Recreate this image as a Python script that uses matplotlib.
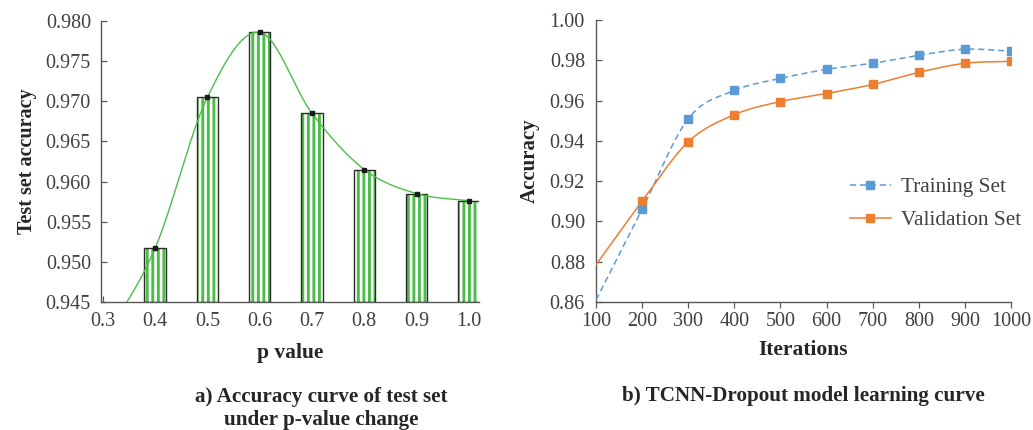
import numpy as np
import matplotlib
matplotlib.use("Agg")
import matplotlib.pyplot as plt

plt.rcParams['font.family'] = ['Liberation Serif', 'DejaVu Serif']
plt.rcParams['hatch.linewidth'] = 2.1

# a) accuracy under p-value change
p_vals = [0.4, 0.5, 0.6, 0.7, 0.8, 0.9, 1.0]
test_acc = [0.9517, 0.9705, 0.9786, 0.9685, 0.9615, 0.9585, 0.9576]
# smooth guide curve (starts below the axis at p=0.3)
curve_p = [0.3, 0.4, 0.5, 0.6, 0.7, 0.8, 0.9, 1.0]
curve_acc = [0.940, 0.9517, 0.9705, 0.9786, 0.9685, 0.9615, 0.9585, 0.9576]

# b) learning curve
iters = [100, 200, 300, 400, 500, 600, 700, 800, 900, 1000]
train_acc = [0.861, 0.906, 0.951, 0.965, 0.971, 0.9755, 0.9785, 0.9825, 0.9855, 0.9845]
val_acc = [0.8785, 0.910, 0.9395, 0.953, 0.9595, 0.9635, 0.968, 0.974, 0.9785, 0.9795]

GREEN = '#4dbd4a'
BLUE = '#5b9bd5'
ORANGE = '#ed7d31'
SPINE = '#595959'
TXT = '#404040'
DARK = '#262626'


def smooth(x, y, n=30):
    # catmull-rom spline through the points
    pts = np.column_stack([x, y]).astype(float)
    pts = np.vstack([2 * pts[0] - pts[1], pts, 2 * pts[-1] - pts[-2]])
    out = []
    t = np.linspace(0, 1, n)[:, None]
    for i in range(1, len(pts) - 2):
        p0, p1, p2, p3 = pts[i - 1], pts[i], pts[i + 1], pts[i + 2]
        seg = 0.5 * ((2 * p1) + (-p0 + p2) * t + (2 * p0 - 5 * p1 + 4 * p2 - p3) * t ** 2
                     + (-p0 + 3 * p1 - 3 * p2 + p3) * t ** 3)
        out.append(seg if i == 1 else seg[1:])
    out = np.vstack(out)
    return out[:, 0], out[:, 1]


def style_axes(ax):
    for s in ['top', 'right']:
        ax.spines[s].set_visible(False)
    for s in ['left', 'bottom']:
        ax.spines[s].set_color(SPINE)
        ax.spines[s].set_linewidth(1.0)
    ax.tick_params(colors=SPINE, labelcolor=TXT, labelsize=14.5, length=4, width=0.9)


fig = plt.figure(figsize=(10.33, 4.30), dpi=100)

# ---- left panel
ax1 = fig.add_axes([0.0975, 0.2977, 0.3665, 0.6535])
ax1.bar(p_vals, [a - 0.945 for a in test_acc], width=0.041, bottom=0.945,
        color='white', edgecolor=GREEN, hatch='|||', linewidth=0, zorder=2)
ax1.bar(p_vals, [a - 0.945 for a in test_acc], width=0.041, bottom=0.945,
        fill=False, edgecolor='#2b2b2b', linewidth=1.0, zorder=3)
cx, cy = smooth(curve_p, curve_acc)
ax1.plot(cx, cy, color=GREEN, lw=1.0, zorder=4)
ax1.plot(p_vals, test_acc, 's', color='#1a1a1a', ms=3, zorder=5)
ax1.set_xlim(0.296, 1.02)
ax1.set_ylim(0.945, 0.980)
ax1.set_xticks([0.3, 0.4, 0.5, 0.6, 0.7, 0.8, 0.9, 1.0])
ax1.set_yticks(np.arange(0.945, 0.9801, 0.005))
ax1.yaxis.set_major_formatter(matplotlib.ticker.FormatStrFormatter('%.3f'))
ax1.xaxis.set_major_formatter(matplotlib.ticker.FormatStrFormatter('%.1f'))
style_axes(ax1)
ax1.tick_params(direction='in')
ax1.tick_params(axis='x', pad=7)
ax1.tick_params(axis='y', pad=7)
ax1.set_xlabel('p value', fontsize=15.5, fontweight='bold', color=DARK, labelpad=9)
ax1.set_ylabel('Test set accuracy', fontsize=14.5, fontweight='bold', color=DARK, labelpad=6)

# ---- right panel
ax2 = fig.add_axes([0.577, 0.2977, 0.4017, 0.6558])
tx, ty = smooth(iters, train_acc)
vx, vy = smooth(iters, val_acc)
ax2.plot(tx, ty, color=BLUE, lw=1.1, ls=(0, (4, 2.5)), zorder=3)
ax2.plot(vx, vy, color=ORANGE, lw=1.1, zorder=3)
ax2.plot(iters[1:], train_acc[1:], 's', color=BLUE, ms=5.5, zorder=4)
ax2.plot(iters[1:], val_acc[1:], 's', color=ORANGE, ms=5.5, zorder=4)
h1, = ax2.plot([], [], color=BLUE, lw=1.1, ls=(0, (4, 2.5)), marker='s', ms=5.5)
h2, = ax2.plot([], [], color=ORANGE, lw=1.1, marker='s', ms=5.5)
ax2.legend([h1, h2], ['Training Set', 'Validation Set'], loc='upper left',
           bbox_to_anchor=(0.565, 0.51), frameon=False, fontsize=15.3,
           handlelength=1.95, labelspacing=0.62, handletextpad=0.45, labelcolor=TXT)
ax2.set_xlim(100, 1000)
ax2.set_ylim(0.86, 1.00)
ax2.set_xticks(iters)
ax2.set_yticks(np.arange(0.86, 1.001, 0.02))
ax2.yaxis.set_major_formatter(matplotlib.ticker.FormatStrFormatter('%.2f'))
style_axes(ax2)
ax2.tick_params(axis='y', direction='in', pad=8)
ax2.tick_params(axis='x', direction='out', pad=3)
ax2.set_xlabel('Iterations', fontsize=15.5, fontweight='bold', color=DARK, labelpad=7)
ax2.set_ylabel('Accuracy', fontsize=15, fontweight='bold', color=DARK, labelpad=7)

# captions
fig.text(0.311, 0.051, 'a) Accuracy curve of test set\nunder p-value change', ha='center',
         va='center', fontsize=15.2, fontweight='bold', color=DARK, linespacing=1.2)
fig.text(0.778, 0.078, 'b) TCNN-Dropout model learning curve', ha='center',
         va='center', fontsize=15.2, fontweight='bold', color=DARK)

fig.savefig('out.png', dpi=100)
